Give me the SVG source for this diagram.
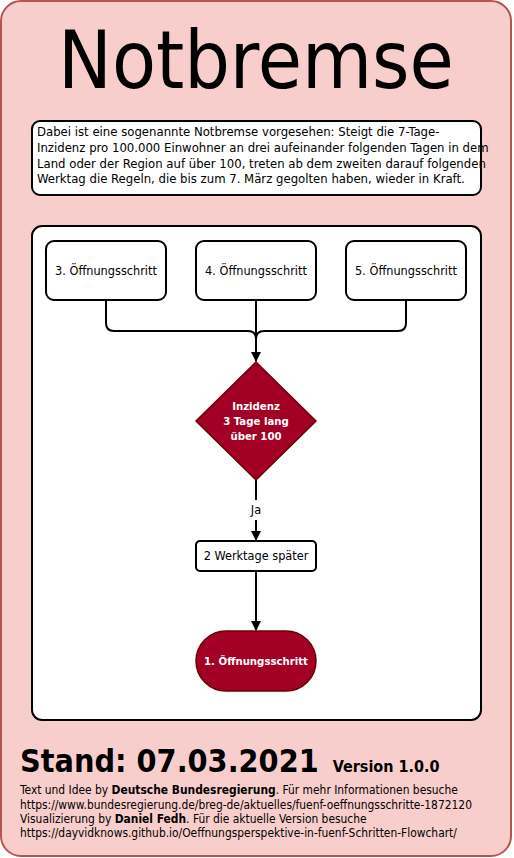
<svg xmlns="http://www.w3.org/2000/svg" width="514" height="858" viewBox="0 0 514 858">
<defs>
<style>
text{font-family:"DejaVu Sans Condensed","Liberation Sans",sans-serif;}
.box{fill:#fff;stroke:#000;stroke-width:2;}
.lbl{font-size:12.6px;fill:#000;text-anchor:middle;}
.wlbl{font-size:11.3px;fill:#fff;text-anchor:middle;font-weight:bold;}
.edge{fill:none;stroke:#000;stroke-width:2;}
.small{font-size:11.9px;fill:#000;}
.intro{font-size:13px;fill:#000;}
</style>
<marker id="arr" markerWidth="10" markerHeight="10" refX="9" refY="5" orient="auto" markerUnits="userSpaceOnUse">
<path d="M0,0 L10,5 L0,10 Z" fill="#000"/>
</marker>
</defs>
<rect x="1" y="1" width="510" height="855" rx="20" fill="#f8cecc" stroke="#b85450" stroke-width="2"/>
<text x="256" y="88" font-size="80" text-anchor="middle" fill="#000">Notbremse</text>
<g id="intro">
<rect class="box" x="32" y="121" width="449" height="74" rx="8"/>
<text class="intro"><tspan x="37" y="136">Dabei ist eine sogenannte Notbremse vorgesehen: Steigt die 7-Tage-</tspan><tspan x="37" y="152">Inzidenz pro 100.000 Einwohner an drei aufeinander folgenden Tagen in dem</tspan><tspan x="37" y="167.5">Land oder der Region auf über 100, treten ab dem zweiten darauf folgenden</tspan><tspan x="37" y="183">Werktag die Regeln, die bis zum 7. März gegolten haben, wieder in Kraft.</tspan></text>
</g>
<rect x="32" y="226" width="449" height="494" rx="10" fill="#fff" stroke="#000" stroke-width="2"/>
<g id="connectors">
<path class="edge" d="M106,300 V323 Q106,331 114,331 H248 Q256,331 256,339"/>
<path class="edge" d="M406,300 V323 Q406,331 398,331 H264 Q256,331 256,339"/>
<path class="edge" d="M256,300 V361" marker-end="url(#arr)"/>
<path class="edge" d="M256,480 V500"/>
<path class="edge" d="M256,520 V540" marker-end="url(#arr)"/>
<text class="lbl" x="256" y="514">Ja</text>
<path class="edge" d="M256,571 V630" marker-end="url(#arr)"/>
</g>
<g id="step3">
<rect class="box" x="46" y="241" width="120" height="59" rx="8"/>
<text class="lbl" x="106" y="275">3. Öffnungsschritt</text>
</g>
<g id="step4">
<rect class="box" x="196" y="241" width="120" height="59" rx="8"/>
<text class="lbl" x="256" y="275">4. Öffnungsschritt</text>
</g>
<g id="step5">
<rect class="box" x="346" y="241" width="120" height="59" rx="8"/>
<text class="lbl" x="406" y="275">5. Öffnungsschritt</text>
</g>
<g id="decision">
<path d="M256,362 L316,421 L256,480 L196,421 Z" fill="#a20025" stroke="#6f0000" stroke-width="1.5"/>
<text class="wlbl"><tspan x="256" y="410">Inzidenz</tspan><tspan x="256" y="425">3 Tage lang</tspan><tspan x="256" y="440">über 100</tspan></text>
</g>
<g id="delay">
<rect class="box" x="196" y="541" width="120" height="30" rx="4"/>
<text class="lbl" x="256" y="560">2 Werktage später</text>
</g>
<g id="step1">
<rect x="196" y="631" width="120" height="60" rx="30" fill="#a20025" stroke="#6f0000" stroke-width="1.5"/>
<text class="wlbl" x="256" y="665">1. Öffnungsschritt</text>
</g>
<text x="20" y="772" font-size="32" font-weight="bold" fill="#000">Stand: 07.03.2021 <tspan font-size="16" dx="4">Version 1.0.0</tspan></text>
<text class="small"><tspan x="20" y="794">Text und Idee by <tspan font-weight="bold">Deutsche Bundesregierung</tspan>. Für mehr Informationen besuche</tspan><tspan x="20" y="808.5">https://www.bundesregierung.de/breg-de/aktuelles/fuenf-oeffnungsschritte-1872120</tspan><tspan x="20" y="823">Visualizierung by <tspan font-weight="bold">Daniel Fedh</tspan>. Für die aktuelle Version besuche</tspan><tspan x="20" y="837">https://dayvidknows.github.io/Oeffnungsperspektive-in-fuenf-Schritten-Flowchart/</tspan></text>
</svg>
